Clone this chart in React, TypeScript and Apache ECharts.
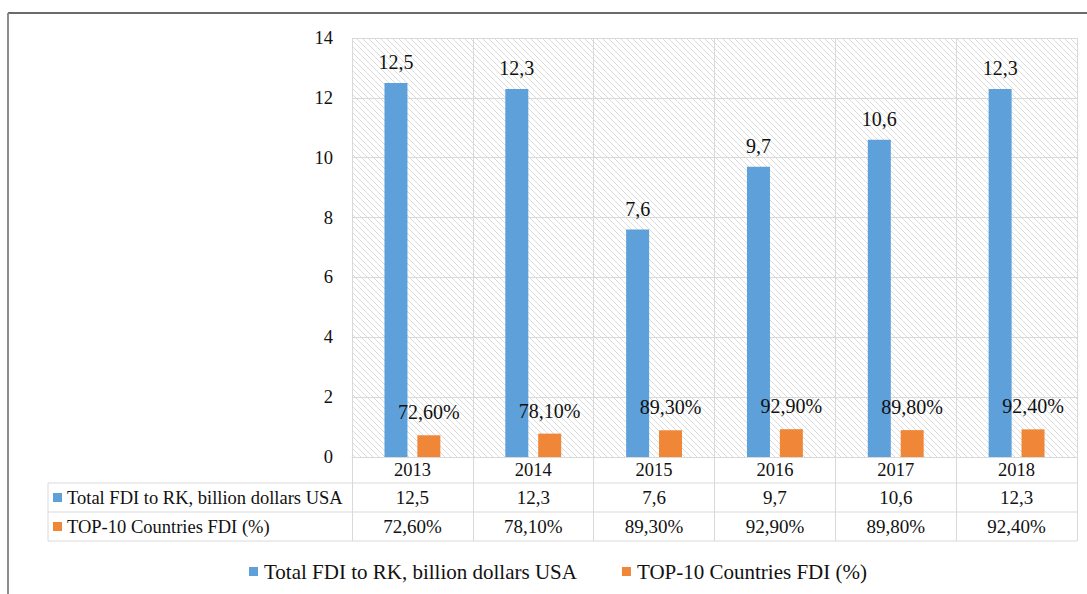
import React, { useEffect, useRef } from 'react';
import * as echarts from 'echarts';

const years = ['2013', '2014', '2015', '2016', '2017', '2018'];
const totalFdi = [12.5, 12.3, 7.6, 9.7, 10.6, 12.3];
const top10Share = [72.6, 78.1, 89.3, 92.9, 89.8, 92.4];
const seriesNames = ['Total FDI to RK, billion dollars USA', 'TOP-10 Countries FDI (%)'];
const yMin = 0;
const yMax = 14;
const yStep = 2;

const colors = ['#5DA0DA', '#EF8638'];
const FONT = '"Liberation Serif", "Times New Roman", Times, serif';

const fmtNum = (v: number) => v.toFixed(1).replace('.', ',');
const fmtPct = (v: number) => v.toFixed(2).replace('.', ',') + '%';

function makeHatch(): string {
  const s = 6;
  const c = document.createElement('canvas');
  c.width = s;
  c.height = s;
  const ctx = c.getContext('2d')!;
  ctx.fillStyle = '#ffffff';
  ctx.fillRect(0, 0, s, s);
  ctx.strokeStyle = '#dcdcdc';
  ctx.lineWidth = 1;
  ctx.beginPath();
  ctx.moveTo(-1, -1);
  ctx.lineTo(s + 1, s + 1);
  ctx.moveTo(-1 - s, -1);
  ctx.lineTo(1, s + 1);
  ctx.moveTo(s - 1, -1);
  ctx.lineTo(2 * s + 1, s + 1);
  ctx.stroke();
  return c.toDataURL();
}

export default function App() {
  const ref = useRef<HTMLDivElement>(null);
  useEffect(() => {
    if (!ref.current) return;
    const chart = echarts.init(ref.current, undefined, { renderer: 'svg' });
    const gridLeft = 352;
    const gridRight = 1077;
    const gridTop = 38;
    const gridBottom = 457;
    const rowY = [483, 512, 541];
    const tableLeft = 48;
    const lineColor = '#d9d9d9';
    const hatch = makeHatch();

    const graphics: any[] = [
      { type: 'line', shape: { x1: 8, y1: 13, x2: 1087, y2: 13 }, style: { stroke: '#3a3a3a', lineWidth: 1.5 } },
      { type: 'line', shape: { x1: 8, y1: 13, x2: 8, y2: 594 }, style: { stroke: '#8c8c8c', lineWidth: 2 } },
      { type: 'line', shape: { x1: tableLeft, y1: rowY[0], x2: tableLeft, y2: rowY[2] }, style: { stroke: lineColor, lineWidth: 1 } },
    ];
    rowY.forEach((y) => {
      graphics.push({ type: 'line', shape: { x1: tableLeft, y1: y, x2: gridRight, y2: y }, style: { stroke: lineColor, lineWidth: 1 } });
    });
    seriesNames.forEach((name, i) => {
      const cy = (rowY[i] + rowY[i + 1]) / 2;
      graphics.push({ type: 'rect', shape: { x: 53, y: cy - 4.5, width: 9, height: 9 }, style: { fill: colors[i] } });
      graphics.push({
        type: 'text',
        x: 67,
        y: cy,
        style: { text: name, fontFamily: FONT, fontSize: 18.5, fill: '#111', verticalAlign: 'middle', align: 'left' },
      });
    });

    const tableAxis = (data: string[], offset: number) => ({
      type: 'category',
      position: 'bottom',
      offset,
      data,
      axisLine: { show: false },
      axisTick: { show: false },
      splitLine: { show: false },
      axisLabel: { fontFamily: FONT, fontSize: 19, color: '#111', margin: 0, lineHeight: 19, interval: 0 },
    });

    chart.setOption({
      animation: false,
      backgroundColor: '#ffffff',
      textStyle: { fontFamily: FONT },
      grid: {
        left: gridLeft,
        top: gridTop,
        width: gridRight - gridLeft,
        height: gridBottom - gridTop,
        show: true,
        borderWidth: 0,
        backgroundColor: { image: hatch, repeat: 'repeat', imageWidth: 6, imageHeight: 6 } as any,
      },
      legend: {
        left: 249,
        top: 561,
        padding: 0,
        itemWidth: 9,
        itemHeight: 9,
        itemGap: 45,
        icon: 'rect',
        textStyle: { fontFamily: FONT, fontSize: 21, color: '#111', padding: [0, 0, 0, 1] },
        data: seriesNames,
      },
      xAxis: [
        {
          type: 'category',
          data: years,
          axisLine: { show: true, lineStyle: { color: lineColor, width: 1 } },
          axisTick: { show: true, interval: 0, length: 84, lineStyle: { color: lineColor } },
          splitLine: { show: true, interval: 0, lineStyle: { color: lineColor } },
          axisLabel: { fontFamily: FONT, fontSize: 18.5, color: '#111', margin: 4, lineHeight: 18, interval: 0 },
        },
        tableAxis(totalFdi.map(fmtNum), 31),
        tableAxis(top10Share.map(fmtPct), 60),
      ],
      yAxis: {
        type: 'value',
        min: yMin,
        max: yMax,
        interval: yStep,
        axisLine: { show: false },
        axisTick: { show: false },
        splitLine: { show: true, lineStyle: { color: lineColor } },
        axisLabel: { fontFamily: FONT, fontSize: 18.5, color: '#111', margin: 19 },
      },
      series: [
        {
          name: seriesNames[0],
          type: 'bar',
          data: totalFdi,
          barWidth: 23,
          barGap: '43%',
          itemStyle: { color: colors[0] },
          label: {
            show: true,
            position: 'top',
            distance: 11,
            fontFamily: FONT,
            fontSize: 20,
            color: '#111',
            formatter: (p: any) => fmtNum(p.value),
          },
        },
        {
          name: seriesNames[1],
          type: 'bar',
          data: top10Share.map((v) => v / 100),
          barWidth: 23,
          itemStyle: { color: colors[1] },
          label: {
            show: true,
            position: 'top',
            distance: 13,
            fontFamily: FONT,
            fontSize: 20,
            color: '#111',
            formatter: (p: any) => fmtPct(top10Share[p.dataIndex]),
          },
        },
      ],
      graphic: graphics,
    });
    return () => chart.dispose();
  }, []);
  return <div ref={ref} style={{ position: 'fixed', left: 0, top: 0, width: 1087, height: 594 }} />;
}
